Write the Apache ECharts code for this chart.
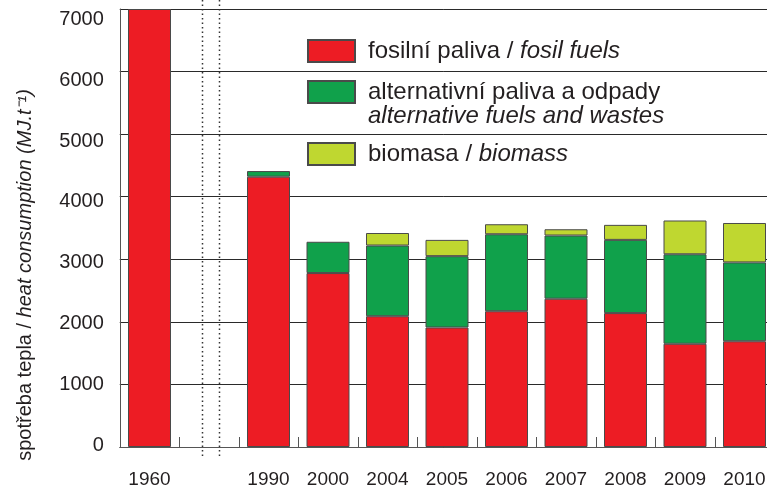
<!DOCTYPE html>
<html>
<head>
<meta charset="utf-8">
<script src="https://cdn.jsdelivr.net/npm/echarts@6/dist/echarts.min.js"></script>
<style>
  html, body { margin: 0; padding: 0; background: #fff; }
  #chart { width: 767px; height: 495px; }
</style>
</head>
<body>
<div id="chart"></div>
<script>
  // years, with an empty slot for the broken axis between 1960 and 1990
  const years = ['1960', '', '1990', '2000', '2004', '2005', '2006', '2007', '2008', '2009', '2010']
  const fossil = [7000, null, 4320, 2780, 2090, 1910, 2170, 2370, 2140, 1650, 1690]
  const alternative = [null, null, 90, 500, 1130, 1140, 1230, 1010, 1170, 1430, 1260]
  const biomass = [null, null, null, null, 200, 260, 160, 100, 240, 540, 630]
  const yTicks = [0, 1000, 2000, 3000, 4000, 5000, 6000, 7000]
  const breakSlot = [[1, 0]]

  const FONT = '"Liberation Sans", Arial, sans-serif'
  const TXT = '#231f20'
  const names = ['fosilní paliva', 'alternativní paliva', 'biomasa']
  const legendText = {
    'fosilní paliva': '{n|fosilní paliva / }{i|fosil fuels}',
    'alternativní paliva': '{e| }\n{n|alternativní paliva a odpady}\n{i|alternative fuels and wastes}',
    'biomasa': '{n|biomasa / }{i|biomass}'
  }
  const legendTop = [39, 56, 142]

  const myChart = echarts.init(document.getElementById('chart'))

  const barBorder = { borderColor: '#4a4a4a', borderWidth: 1 }

  const option = {
    animation: false,
    textStyle: { fontFamily: FONT },
    grid: [
      { left: 119.75, top: 9, bottom: 48, right: -7.25, containLabel: false, outerBoundsMode: 'none' },
      // the printed tick labels sit a bit tighter than the gridlines
      { left: 119.75, top: 19.7, bottom: 50, right: -7.25, containLabel: false, outerBoundsMode: 'none' }
    ],
    legend: names.map((n, i) => ({
      data: [n],
      left: 307,
      top: legendTop[i],
      padding: 0,
      itemWidth: 47,
      itemHeight: 22,
      selectedMode: false,
      icon: 'rect',
      formatter: (name) => legendText[name],
      textStyle: {
        color: TXT,
        fontSize: 24,
        padding: [0, 0, 0, 8],
        rich: {
          n: { fontSize: 24, color: TXT, fontFamily: FONT, lineHeight: 24 },
          i: { fontSize: 24, color: TXT, fontFamily: FONT, fontStyle: 'italic', lineHeight: 24 },
          e: { fontSize: 24, lineHeight: 24 }
        }
      }
    })),
    xAxis: [
      {
        type: 'category',
        data: years,
        boundaryGap: true,
        axisLine: { lineStyle: { color: '#555', width: 1 } },
        axisTick: { show: true, inside: true, length: 10, interval: 0, lineStyle: { color: '#555' } },
        axisLabel: { interval: 0, fontSize: 19, color: TXT, margin: 23, fontFamily: FONT },
        splitLine: { show: false }
      },
      { gridIndex: 1, type: 'category', data: years, show: false }
    ],
    yAxis: [
      {
        type: 'value',
        min: 0,
        max: 7000,
        interval: 1000,
        name: '{n|spotřeba tepla / }{i|heat consumption (MJ.t⁻¹)}',
        nameLocation: 'middle',
        nameGap: 84,
        nameTextStyle: {
          padding: [0, 94, 0, 0],
          rich: {
            n: { fontSize: 20, color: TXT, fontFamily: FONT },
            i: { fontSize: 20, color: TXT, fontFamily: FONT, fontStyle: 'italic' }
          }
        },
        axisLine: { show: true, lineStyle: { color: '#555', width: 1 } },
        axisTick: { show: false },
        axisLabel: { show: false },
        splitLine: { show: true, lineStyle: { color: '#2a2a2a', width: 1 } }
      },
      {
        gridIndex: 1,
        type: 'value',
        min: 0,
        max: 7000,
        interval: 1000,
        axisLine: { show: false },
        axisTick: { show: false },
        splitLine: { show: false },
        axisLabel: {
          fontSize: 20, color: TXT, margin: 16, fontFamily: FONT,
          formatter: (v) => yTicks.includes(v) ? String(v) : ''
        }
      }
    ],
    series: [
      {
        name: 'fosilní paliva', type: 'bar', stack: 'heat', barWidth: 43,
        data: fossil, itemStyle: Object.assign({ color: '#ed1c24' }, barBorder)
      },
      {
        name: 'alternativní paliva', type: 'bar', stack: 'heat', barWidth: 43,
        data: alternative, itemStyle: Object.assign({ color: '#10a14b' }, barBorder)
      },
      {
        name: 'biomasa', type: 'bar', stack: 'heat', barWidth: 43,
        data: biomass, itemStyle: Object.assign({ color: '#bfd730' }, barBorder)
      },
      {
        // dotted break lines in the empty slot
        type: 'custom',
        clip: false,
        silent: true,
        data: breakSlot,
        encode: { x: 0, y: 1 },
        renderItem: function (params, api) {
          const base = api.coord([api.value(0), 0])
          const top = api.coord([api.value(0), 7000])[1] - 9
          const band = api.size([1, 0])[0]
          const xs = [base[0] - band * 0.112, base[0] + band * 0.166]
          return {
            type: 'group',
            children: xs.map((x) => ({
              type: 'line',
              shape: { x1: Math.round(x) + 0.5, y1: top, x2: Math.round(x) + 0.5, y2: base[1] + 12 },
              style: { stroke: '#333', lineWidth: 1.5, lineDash: [1.5, 3] }
            }))
          }
        }
      }
    ]
  }
  myChart.setOption(option)
</script>
</body>
</html>
